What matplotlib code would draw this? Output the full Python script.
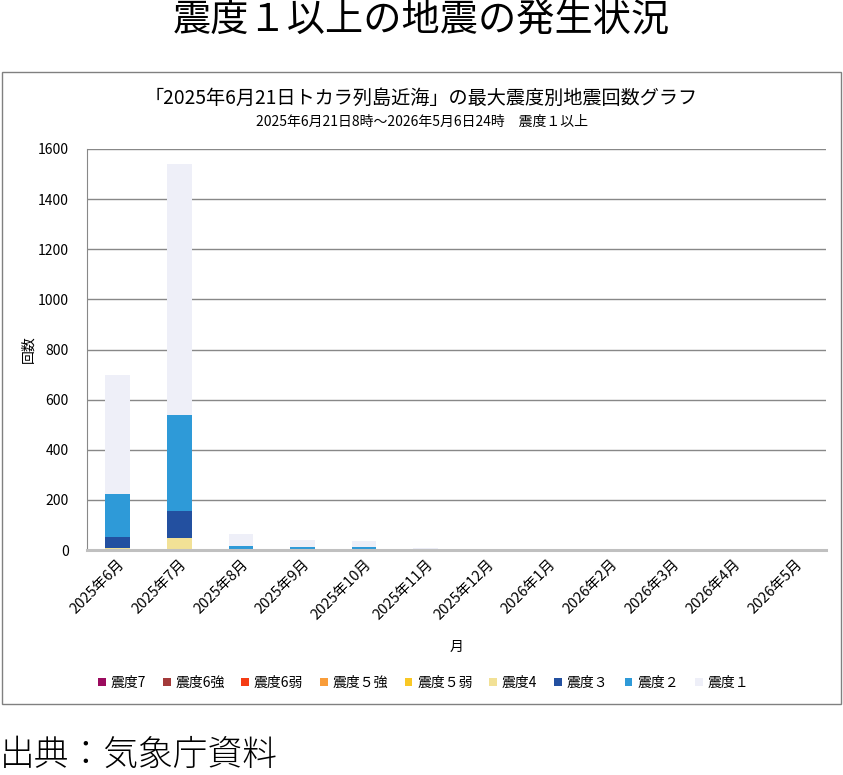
import matplotlib
matplotlib.use("Agg")
import matplotlib.pyplot as plt
from matplotlib.patches import Rectangle
import numpy as np

plt.rcParams['font.family'] = ['Noto Sans CJK JP', 'DejaVu Sans']

months = ["2025年6月", "2025年7月", "2025年8月", "2025年9月", "2025年10月", "2025年11月",
          "2025年12月", "2026年1月", "2026年2月", "2026年3月", "2026年4月", "2026年5月"]
series_names = ["震度7", "震度6強", "震度6弱", "震度５強", "震度５弱", "震度4", "震度３", "震度２", "震度１"]
colors = ["#9b0b5e", "#a33a3a", "#f53c14", "#f99d3a", "#f9c825", "#f2e196", "#2350a0", "#2e9ad8", "#eeeff8"]

shindo7  = [0, 0, 0, 0, 0, 0, 0, 0, 0, 0, 0, 0]
shindo6p = [0, 0, 0, 0, 0, 0, 0, 0, 0, 0, 0, 0]
shindo6m = [0, 1, 0, 0, 0, 0, 0, 0, 0, 0, 0, 0]
shindo5p = [0, 1, 0, 0, 0, 0, 0, 0, 0, 0, 0, 0]
shindo5m = [0, 2, 0, 0, 0, 0, 0, 0, 0, 0, 0, 0]
shindo4  = [6, 42, 0, 0, 0, 0, 0, 0, 0, 0, 0, 0]
shindo3  = [44, 109, 2, 1, 1, 0, 0, 0, 0, 0, 0, 0]
shindo2  = [173, 382, 14, 9, 9, 4, 1, 0, 0, 0, 0, 0]
shindo1  = [474, 1002, 48, 30, 25, 5, 4, 2, 1, 1, 1, 0]
data = [shindo7, shindo6p, shindo6m, shindo5p, shindo5m, shindo4, shindo3, shindo2, shindo1]

W, H = 843, 775
fig = plt.figure(figsize=(W / 100, H / 100), dpi=100)

# main title
fig.text(0.5, 1 - 20 / H, "震度１以上の地震の発生状況", ha="center", va="center", fontsize=27.5)

# chart frame
fig.patches.append(Rectangle((2 / W, 1 - 704 / H), 839 / W, 632 / H, transform=fig.transFigure,
                             fill=False, edgecolor="#808080", linewidth=1.0))

fig.text(0.5, 1 - 98 / H, "「2025年6月21日トカラ列島近海」の最大震度別地震回数グラフ",
         ha="center", va="center", fontsize=13.8)
fig.text(0.5, 1 - 122 / H, "2025年6月21日8時～2026年5月6日24時　震度１以上",
         ha="center", va="center", fontsize=10)

ax = fig.add_axes([87 / W, 1 - 550 / H, 739 / W, 401 / H])
x = np.arange(len(months))
bottom = np.zeros(len(months))
handles = []
for name, col, vals in zip(series_names, colors, data):
    v = np.array(vals, dtype=float)
    b = ax.bar(x, v, width=0.4, bottom=bottom, color=col, label=name, zorder=3)
    handles.append(b)
    bottom += v

ax.set_xlim(-0.5, len(months) - 0.5)
ax.set_ylim(0, 1600)
ax.set_yticks(np.arange(0, 1601, 200))
ax.yaxis.grid(True, color="#888888", linewidth=1.0, zorder=0)
ax.set_axisbelow(True)
for s in ["top", "right"]:
    ax.spines[s].set_visible(False)
ax.spines["left"].set_color("#888888")
ax.spines["bottom"].set_color("#c0c0c0")
ax.spines["bottom"].set_linewidth(2.2)
ax.spines["bottom"].set_zorder(4)
ax.tick_params(axis="y", length=0, labelsize=10, pad=13)
ax.tick_params(axis="x", length=0, labelsize=10.5, pad=5)
ax.set_xticks(x)
ax.set_xticklabels(months, rotation=45, ha="right", rotation_mode="anchor")
ax.set_ylabel("回数", fontsize=10)
ax.yaxis.set_label_coords(-52 / 739, 0.5)
ax.set_xlabel("月", fontsize=10)
ax.xaxis.set_label_coords(0.5, -(640 - 550) / 401)

fig.legend(handles=handles, labels=series_names, loc="center", ncol=9,
           bbox_to_anchor=(424 / W, 1 - 683 / H), frameon=False, fontsize=10,
           handlelength=0.55, handleheight=0.55, handletextpad=0.35, columnspacing=1.2)

fig.text(0, 1 - 755 / H, "出典：気象庁資料", ha="left", va="center", fontsize=25, fontweight="light")

fig.savefig("out.png", dpi=100)
